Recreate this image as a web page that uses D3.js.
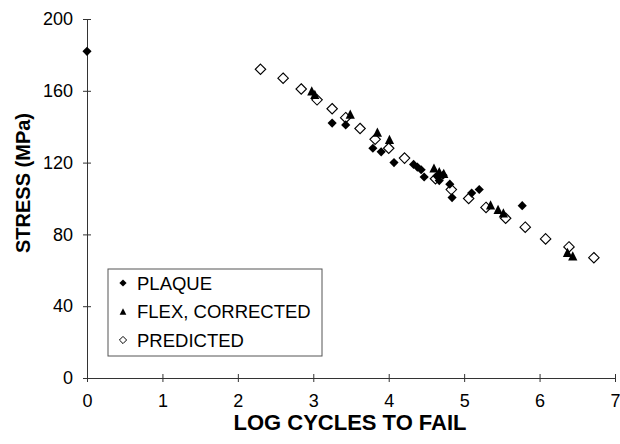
<!DOCTYPE html>
<html>
<head>
<meta charset="utf-8">
<script src="https://cdn.jsdelivr.net/npm/d3@7"></script>
<style>
  body { margin: 0; background: #fff; }
  text { font-family: "Liberation Sans", Arial, sans-serif; }
</style>
</head>
<body>
<svg id="drawing_region"></svg>
<script>
const plaqueX = [0, 3.25, 3.43, 3.79, 3.90, 4.07, 4.33, 4.38, 4.43, 4.47, 4.64, 4.67, 4.72, 4.81, 4.84, 5.10, 5.20, 5.77];
const plaqueY = [182, 142, 141, 128, 126, 120, 119, 117.5, 116, 112, 112.5, 110, 113, 108, 100.5, 103, 105, 96];

const flexX = [2.98, 3.02, 3.49, 3.85, 4.01, 4.60, 4.67, 4.73, 5.35, 5.45, 5.52, 6.37, 6.44];
const flexY = [160, 158, 147, 137, 133, 117, 115, 114, 96.5, 94, 92, 70, 68];

const predX = [2.30, 2.60, 2.84, 3.05, 3.25, 3.43, 3.62, 3.82, 4.00, 4.21, 4.62, 4.83, 5.06, 5.29, 5.55, 5.81, 6.08, 6.39, 6.72];
const predY = [172, 167, 161, 155, 150, 145, 139, 133, 128, 122.5, 111, 105, 100, 95, 89, 84, 77.5, 73, 67];

const xTicks = [0, 1, 2, 3, 4, 5, 6, 7];
const yTicks = [0, 40, 80, 120, 160, 200];
const seriesNames = ['PLAQUE', 'FLEX, CORRECTED', 'PREDICTED'];

// square turned 45 degrees, d3's own diamond is too tall
const squareDiamond = {
    draw(ctx, size) {
        const r = Math.sqrt(size / 2);
        ctx.moveTo(0, -r);
        ctx.lineTo(r, 0);
        ctx.lineTo(0, r);
        ctx.lineTo(-r, 0);
        ctx.closePath();
    }
};
const triangle = {
    draw(ctx, size) {
        const h = Math.sqrt(size);
        ctx.moveTo(0, -h / 2);
        ctx.lineTo(h / 2, h / 2);
        ctx.lineTo(-h / 2, h / 2);
        ctx.closePath();
    }
};

class ScatterPlot {

    constructor( config ) {
        this.config = {
            parent: config.parent,
            width: config.width || 620,
            height: config.height || 444,
            margin: config.margin || {top:19, right:5, bottom:66, left:87}
        };
        this.init();
    }

    init() {
        let self = this;

        self.svg = d3.select( self.config.parent )
            .attr('width', self.config.width)
            .attr('height', self.config.height);

        self.inner_width = self.config.width - self.config.margin.left - self.config.margin.right;
        self.inner_height = self.config.height - self.config.margin.top - self.config.margin.bottom;

        self.chart = self.svg.append('g')
            .attr('transform', `translate(${self.config.margin.left}, ${self.config.margin.top})`);

        self.xscale = d3.scaleLinear()
            .domain([0, 7])
            .range([0, self.inner_width]);

        self.yscale = d3.scaleLinear()
            .domain([0, 200])
            .range([self.inner_height, 0]);
    }

    render() {
        let self = this;

        const yaxis = d3.axisLeft( self.yscale )
            .tickValues( yTicks )
            .tickFormat( d3.format('d') )
            .tickSizeOuter(0);
        const yg = self.chart.append('g').call( yaxis );
        yg.select('.domain').attr('stroke', '#333');
        yg.selectAll('.tick line').attr('x1', -4).attr('x2', 4).attr('stroke', '#333');
        yg.selectAll('.tick text')
            .attr('x', -14)
            .attr('font-size', '18px')
            .attr('font-family', '"Liberation Sans", Arial, sans-serif')
            .attr('fill', '#000');

        const xaxis = d3.axisBottom( self.xscale )
            .tickValues( xTicks )
            .tickFormat( d3.format('d') )
            .tickSizeOuter(0);
        const xg = self.chart.append('g')
            .attr('transform', `translate(0, ${self.inner_height})`)
            .call( xaxis );
        xg.select('.domain').attr('stroke', '#333');
        xg.selectAll('.tick line').attr('y1', -4).attr('y2', 4).attr('stroke', '#333');
        xg.selectAll('.tick text')
            .attr('y', 23)
            .attr('dy', '0.35em')
            .attr('font-size', '18px')
            .attr('font-family', '"Liberation Sans", Arial, sans-serif')
            .attr('fill', '#000');

        const pred = predX.map( (x, i) => ({x: x, y: predY[i]}) );
        const flex = flexX.map( (x, i) => ({x: x, y: flexY[i]}) );
        const plaque = plaqueX.map( (x, i) => ({x: x, y: plaqueY[i]}) );

        self.chart.selectAll('.pred')
            .data( pred )
            .enter()
            .append('path')
            .attr('class', 'pred')
            .attr('transform', d => `translate(${self.xscale(d.x)}, ${self.yscale(d.y)})`)
            .attr('d', d3.symbol().type(squareDiamond).size(55))
            .attr('fill', 'white')
            .attr('stroke', 'black')
            .attr('stroke-width', 1.1);

        self.chart.selectAll('.flex')
            .data( flex )
            .enter()
            .append('path')
            .attr('class', 'flex')
            .attr('transform', d => `translate(${self.xscale(d.x)}, ${self.yscale(d.y)})`)
            .attr('d', d3.symbol().type(triangle).size(85))
            .attr('fill', 'black');

        self.chart.selectAll('.plaque')
            .data( plaque )
            .enter()
            .append('path')
            .attr('class', 'plaque')
            .attr('transform', d => `translate(${self.xscale(d.x)}, ${self.yscale(d.y)})`)
            .attr('d', d3.symbol().type(squareDiamond).size(42))
            .attr('fill', 'black');

        // legend
        const legend = self.svg.append('g')
            .attr('transform', 'translate(108, 269)');
        legend.append('rect')
            .attr('width', 214)
            .attr('height', 87)
            .attr('fill', 'white')
            .attr('stroke', '#555');

        const marks = [
            { type: squareDiamond, size: 26, fill: 'black', stroke: 'none' },
            { type: triangle, size: 45, fill: 'black', stroke: 'none' },
            { type: squareDiamond, size: 26, fill: 'white', stroke: 'black' }
        ];
        const items = legend.selectAll('.item')
            .data( seriesNames )
            .enter()
            .append('g')
            .attr('transform', (d, i) => `translate(0, ${14 + i * 28.5})`);
        items.append('path')
            .attr('transform', 'translate(15, 0)')
            .attr('d', (d, i) => d3.symbol().type(marks[i].type).size(marks[i].size)())
            .attr('fill', (d, i) => marks[i].fill)
            .attr('stroke', (d, i) => marks[i].stroke);
        items.append('text')
            .attr('x', 29)
            .attr('dy', '0.36em')
            .attr('font-size', '18.5px')
            .text( d => d );

        self.svg.append('text')
            .attr('x', 350)
            .attr('y', 430)
            .attr('text-anchor', 'middle')
            .attr('font-size', '22px')
            .attr('font-weight', 700)
            .text('LOG CYCLES TO FAIL');

        self.svg.append('text')
            .attr('transform', 'translate(30, 183) rotate(-90)')
            .attr('text-anchor', 'middle')
            .attr('font-size', '20px')
            .attr('font-weight', 700)
            .text('STRESS (MPa)');
    }
}

const scatter_plot = new ScatterPlot({ parent: '#drawing_region', width: 620, height: 444 });
scatter_plot.render();
</script>
</body>
</html>
